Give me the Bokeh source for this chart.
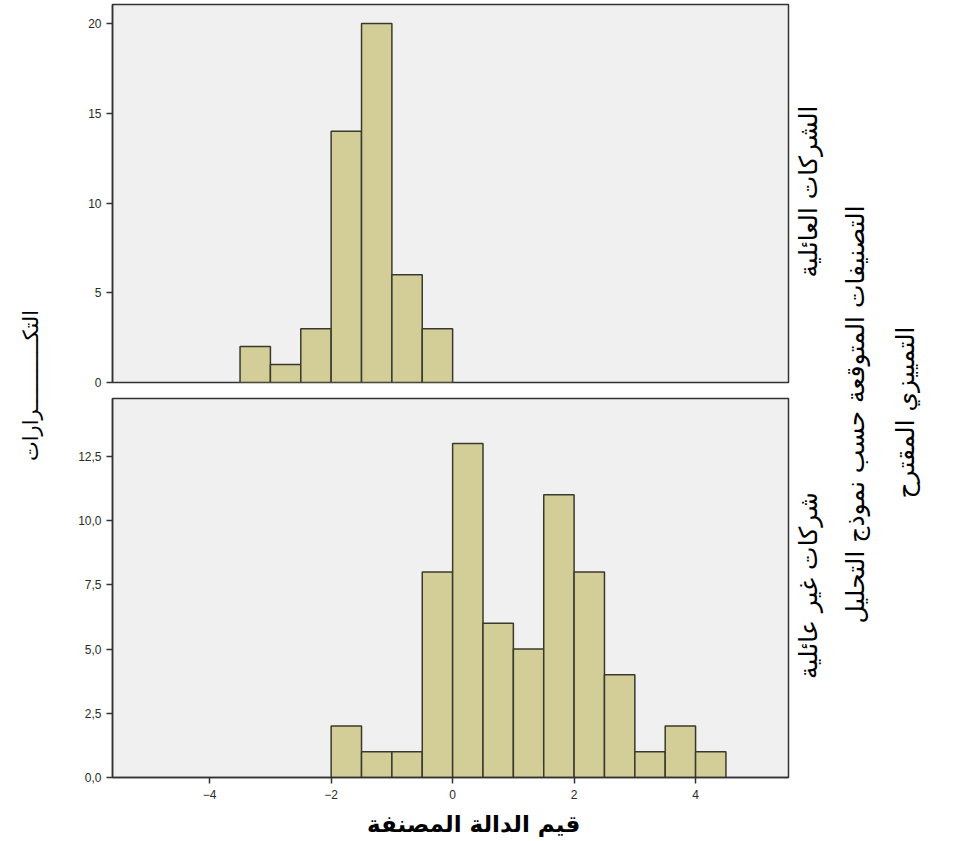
import math
from bokeh.plotting import figure
from bokeh.layouts import row, column
from bokeh.models import Range1d, FixedTicker
from bokeh.embed import file_html
from bokeh.resources import INLINE
from bokeh.core.properties import value

# ---- data ----
bin_width = 0.5
family_bin_left = [-3.5, -3.0, -2.5, -2.0, -1.5, -1.0, -0.5]
family_counts = [2, 1, 3, 14, 20, 6, 3]
nonfamily_bin_left = [-2.0, -1.5, -1.0, -0.5, 0.0, 0.5, 1.0, 1.5, 2.0, 2.5, 3.0, 3.5, 4.0]
nonfamily_counts = [2, 1, 1, 8, 13, 6, 5, 11, 8, 4, 1, 2, 1]

x_ticks = [-4, -2, 0, 2, 4]
family_y_ticks = [0, 5, 10, 15, 20]
nonfamily_y_ticks = [0, 2.5, 5, 7.5, 10, 12.5]
nonfamily_y_tick_labels = ["0,0", "2,5", "5,0", "7,5", "10,0", "12,5"]

y_label = "التكـــــــــــرارات"
x_label = "قيم الدالة المصنفة"
panel_labels = ["الشركات العائلية", "شركات غير عائلية"]
title_lines = ["التصنيفات المتوقعة حسب نموذج التحليل", "التمييزي المقترح"]

# ---- style ----
BAR_FILL = "#D3CE98"
BAR_LINE = "#3A3A2C"
AX = "#333333"
BG = "#F0F0F0"
TICK_FONT = "Liberation Sans"
AR_FONT = "DejaVu Sans"

x_range = Range1d(-5.6, 5.53)

LEFT_W = 60
PANEL_W = 730
RIGHT_W = 165
TOP_H = 390
BOT_H = 414
XLAB_H = 36
TOTAL_H = TOP_H + BOT_H + XLAB_H


def make_panel(height, y_end, mb_top, mb_bottom):
    p = figure(width=PANEL_W, height=height, x_range=x_range, y_range=Range1d(0, y_end),
               output_backend="svg", toolbar_location=None, tools="",
               min_border_left=52, min_border_right=2,
               min_border_top=mb_top, min_border_bottom=mb_bottom)
    p.background_fill_color = BG
    p.border_fill_color = "white"
    p.outline_line_color = AX
    p.outline_line_width = 1.5
    p.grid.visible = False
    for ax in [p.xaxis[0], p.yaxis[0]]:
        ax.axis_line_color = AX
        ax.axis_line_width = 1.5
        ax.major_tick_line_color = AX
        ax.major_tick_line_width = 1.5
        ax.major_tick_in = 0
        ax.major_tick_out = 6
        ax.minor_tick_line_color = None
        ax.major_label_text_font = TICK_FONT
        ax.major_label_text_font_size = "12px"
        ax.major_label_text_color = "#2A2A2A"
        ax.major_label_standoff = 5
    p.xaxis.ticker = FixedTicker(ticks=x_ticks)
    return p


top = make_panel(TOP_H, 21.06, 4, 8)
top.yaxis.ticker = FixedTicker(ticks=family_y_ticks)
top.xaxis.visible = False
top.quad(left=family_bin_left,
         right=[l + bin_width for l in family_bin_left],
         top=family_counts, bottom=0,
         fill_color=BAR_FILL, line_color=BAR_LINE, line_width=1.5)

bot = make_panel(BOT_H, 14.75, 8, 27)
bot.yaxis.ticker = FixedTicker(ticks=nonfamily_y_ticks)
bot.yaxis.major_label_overrides = {float(t): s for t, s in zip(nonfamily_y_ticks, nonfamily_y_tick_labels)}
bot.xaxis.major_label_standoff = 6
bot.quad(left=nonfamily_bin_left,
         right=[l + bin_width for l in nonfamily_bin_left],
         top=nonfamily_counts, bottom=0,
         fill_color=BAR_FILL, line_color=BAR_LINE, line_width=1.5)


def side_fig(width, height):
    f = figure(width=width, height=height, x_range=Range1d(0, width), y_range=Range1d(0, height),
               output_backend="svg", toolbar_location=None, tools="", min_border=0,
               x_axis_location=None, y_axis_location=None)
    f.outline_line_color = None
    f.grid.visible = False
    f.background_fill_color = "white"
    f.border_fill_color = "white"
    return f


def page_y(y):
    return TOTAL_H - y


xlab = side_fig(PANEL_W, XLAB_H)
xlab.text(x=[450 - LEFT_W], y=[TOTAL_H - 823], text=[x_label],
          text_align="center", text_baseline="middle",
          text_font=value(AR_FONT), text_font_style="bold",
          text_font_size="23px", text_color="black")

left = side_fig(LEFT_W, TOTAL_H)
left.text(x=[30], y=[page_y(385)], text=[y_label], angle=math.pi / 2,
          text_align="center", text_baseline="middle",
          text_font=value(AR_FONT), text_font_size="21px", text_color="black")

right = side_fig(RIGHT_W, TOTAL_H)
right.text(x=[18, 18], y=[page_y(191), page_y(585)], text=panel_labels, angle=math.pi / 2,
           text_align="center", text_baseline="middle",
           text_font=value(AR_FONT), text_font_size="25px", text_color="black")
right.text(x=[65, 115], y=[page_y(414), page_y(412)], text=title_lines, angle=math.pi / 2,
           text_align="center", text_baseline="middle",
           text_font=value(AR_FONT), text_font_size="25px", text_color="black")

layout = row(left, column(top, bot, xlab), right)

open("out.html", "w").write(file_html(layout, INLINE))
